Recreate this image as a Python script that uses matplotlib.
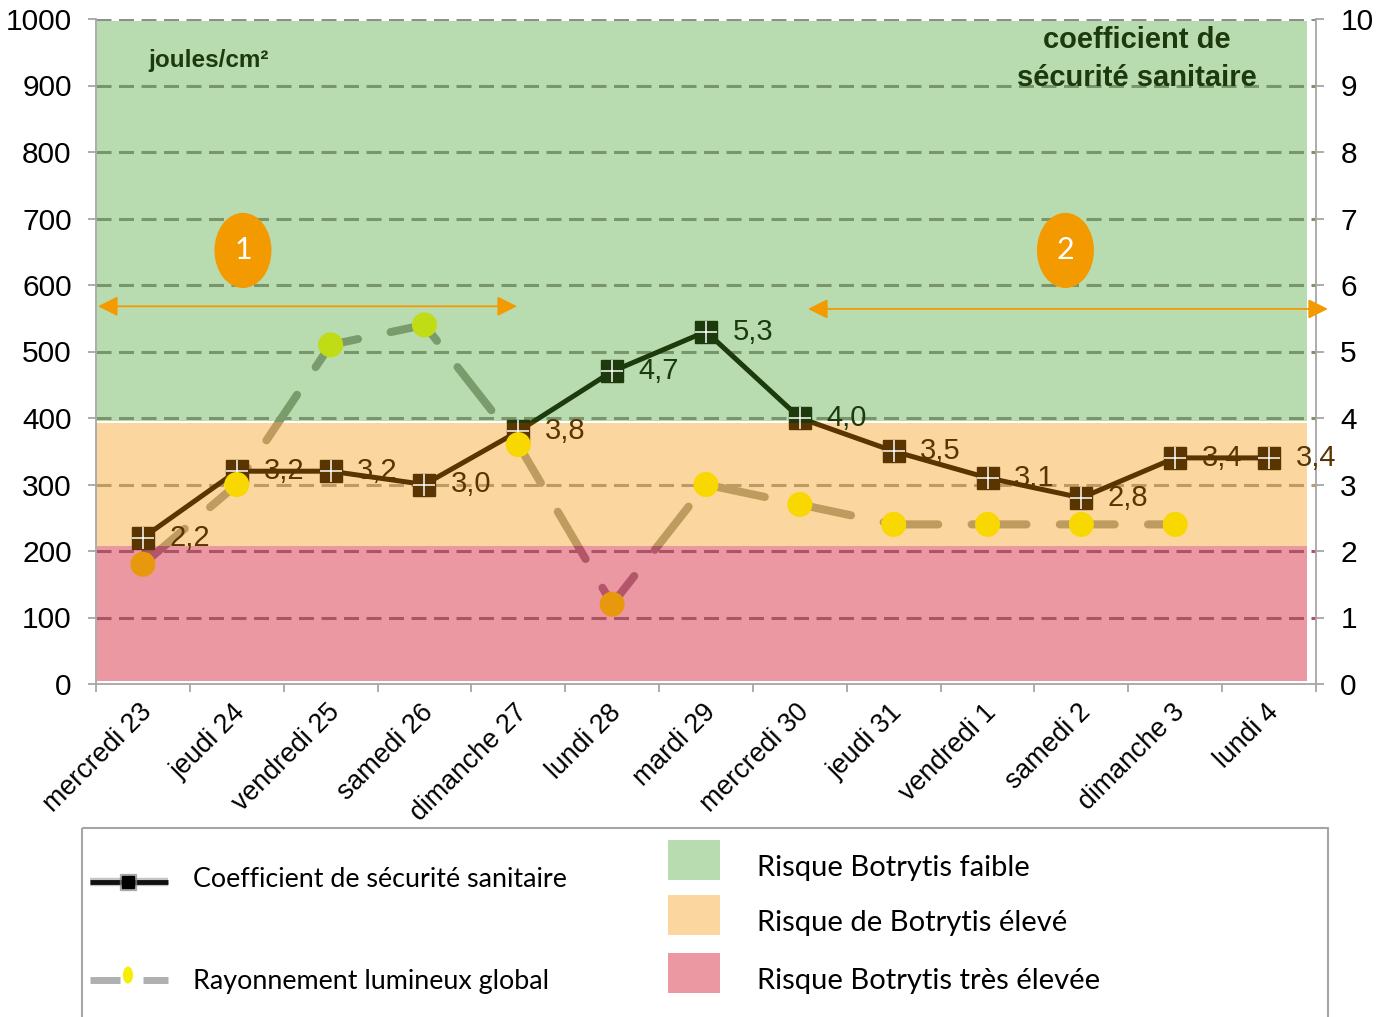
import matplotlib
matplotlib.use('Agg')
import matplotlib.pyplot as plt
from matplotlib.patches import Rectangle, Ellipse
from matplotlib.transforms import ScaledTranslation
import numpy as np

# ---------------- data ----------------
days = ['mercredi 23', 'jeudi 24', 'vendredi 25', 'samedi 26', 'dimanche 27',
        'lundi 28', 'mardi 29', 'mercredi 30', 'jeudi 31', 'vendredi 1',
        'samedi 2', 'dimanche 3', 'lundi 4']
coef = [2.2, 3.2, 3.2, 3.0, 3.8, 4.7, 5.3, 4.0, 3.5, 3.1, 2.8, 3.4, 3.4]
rayon = [180, 300, 510, 540, 360, 120, 300, 270, 240, 240, 240, 240]
zone_bounds = [(4, 207), (207, 392), (395, 997)]
zone_colors = ['#eb98a3', '#fbd69e', '#b9dbb0']
zone_labels = ['Risque Botrytis très élevée', 'Risque de Botrytis élevé',
               'Risque Botrytis faible']
series_labels = ['Coefficient de sécurité sanitaire', 'Rayonnement lumineux global']
period_labels = ['1', '2']

# ---------------- style ----------------
plt.rcParams['lines.scale_dashes'] = False
plt.rcParams['font.family'] = ['Liberation Sans', 'DejaVu Sans']

W, H = 1389, 1017
fig = plt.figure(figsize=(W / 100, H / 100), dpi=100)
ax = fig.add_axes([96 / W, 333 / H, 1220 / W, 665 / H])
ax2 = ax.twinx()

x = np.arange(len(days))
xr = np.arange(len(rayon))
ax.set_xlim(-0.5, len(days) - 0.5)
ax.set_ylim(0, 1000)

px = (len(days)) / 1220.0  # one pixel in x data units

# background zones
for (lo, hi), c in zip(zone_bounds, zone_colors):
    ax.add_patch(Rectangle((-0.5 + px, lo), 1210 * px, hi - lo,
                           facecolor=c, edgecolor='none', zorder=0))

# dashed grid lines, tinted by zone
for v in range(100, 1001, 100):
    if v == 1000:
        gc = '#8e8e8e'
    elif v >= 395:
        gc = '#789669'
    elif v >= 207:
        gc = '#be9b64'
    else:
        gc = '#aa5564'
    ax.axhline(v, color=gc, lw=2.2, dashes=(10.8, 5.4), zorder=1)

split_lo = 207
split_hi = 393.5
def clip_rect(lo, hi):
    return Rectangle((-2, lo), 20, hi - lo, transform=ax.transData)

# radiation line (dashed, tinted per zone)
rad_cols = ['#b4566a', '#be9b5f', '#7a9b6c']
rad_clips = [(-200, split_lo), (split_lo, split_hi), (split_hi, 2000)]
for col, (lo, hi) in zip(rad_cols, rad_clips):
    ln, = ax.plot(xr, rayon, color=col, lw=5.8, dashes=(39.5, 24),
                  dash_capstyle='round', zorder=2)
    ln.set_clip_path(clip_rect(lo, hi))

# coefficient line
brown = '#5a3500'
dgreen = '#1c3a0c'
for col, (lo, hi) in [(brown, (-200, split_hi)), (dgreen, (split_hi, 2000))]:
    ln, = ax2.plot(x, coef, color=col, lw=3.6, marker='s', ms=16.5,
                   mfc=col, mec=col, zorder=3)
    ln.set_clip_path(clip_rect(lo, hi))
ax2.plot(x, coef, ls='none', marker='+', ms=16.5, mew=1.1, color='white', zorder=4)

# radiation markers (on top)
def mcol(v):
    if v < split_lo:
        return '#e8980c'
    if v < split_hi:
        return '#f8d800'
    return '#c0dc14'
ax2.scatter(xr, rayon, c=[mcol(v) for v in rayon], s=18 ** 2,
            edgecolors='none', transform=ax.transData, zorder=5)

# data labels
for xi, v in zip(x, coef):
    ax2.text(xi + 0.5, v, f'{v:.1f}'.replace('.', ','), ha='center', va='center',
             fontsize=21, color=dgreen if v >= 4 else brown, zorder=6)

# period markers
for lab, (cx, cy) in zip(period_labels, [(1.066, 652), (9.83, 652)]):
    ax2.add_patch(Ellipse((cx, cy), 57 * px, 113, facecolor='#f39a00',
                          edgecolor='none', transform=ax.transData, zorder=6))
    ax2.text(cx, cy, lab, ha='center', va='center', color='white', fontsize=22,
             family=['Lato', 'DejaVu Sans'], transform=ax.transData, zorder=7)

for (x0, x1, yy) in [(-0.479, 3.986, 568), (7.087, 12.627, 564)]:
    ax2.annotate('', xy=(x1, yy), xytext=(x0, yy), xycoords=ax.transData,
                 textcoords=ax.transData, annotation_clip=False,
                 arrowprops=dict(arrowstyle='<|-|>,head_length=0.6,head_width=0.3',
                                 mutation_scale=20, color='#f39a00', lw=1.3,
                                 shrinkA=0, shrinkB=0, clip_on=False), zorder=6)

# axis texts
ax.text((148 - 96) / 1220, (684 - 61) / 665, 'joules/cm²', transform=ax.transAxes,
        ha='left', va='center', fontsize=17.5, fontweight='bold', color=dgreen, zorder=6)
ax.text((1137 - 96) / 1220, (684 - 59) / 665, 'coefficient de\nsécurité sanitaire',
        transform=ax.transAxes, ha='center', va='center', fontsize=21,
        fontweight='bold', color=dgreen, linespacing=1.45, zorder=6)

# axes styling
spc = '#a6a6a6'
for a in (ax, ax2):
    a.spines['top'].set_visible(False)
    for s in ('left', 'right', 'bottom'):
        a.spines[s].set_color(spc)
        a.spines[s].set_linewidth(1.3)
ax.spines['right'].set_visible(False)
ax2.spines['left'].set_visible(False)
ax2.spines['bottom'].set_visible(False)

ax.set_yticks(range(0, 1001, 100))
ax.tick_params(axis='y', labelsize=21.5, length=6, width=1.3, color=spc, pad=11.5)
ax2.set_ylim(0, 10)
ax2.set_yticks(range(0, 11))
ax2.tick_params(axis='y', labelsize=21.5, length=6, width=1.3, color=spc, pad=11.5)

ax.set_xticks(x)
ax.set_xticklabels(days, rotation=45, ha='right', rotation_mode='anchor')
ax.set_xticks(np.arange(-0.5, len(days)), minor=True)
ax.tick_params(axis='x', which='major', length=0, labelsize=19.3, pad=1)
ax.tick_params(axis='x', which='minor', length=6, width=1.3, color=spc)
ax.set_facecolor('white')
shift = ScaledTranslation(-4 / 100, -14 / 100, fig.dpi_scale_trans)
for lbl in ax.get_xticklabels():
    lbl.set_transform(lbl.get_transform() + shift)

# ---------------- legend ----------------
lax = fig.add_axes([0, 0, 1, 190 / H])
lax.set_xlim(0, W)
lax.set_ylim(H, H - 190)
lax.axis('off')
lax.add_patch(Rectangle((82, 828), 1246, 300, fill=False, edgecolor=spc, lw=1.5,
                        clip_on=False))
lfont = ['Lato', 'DejaVu Sans']
# coefficient sample
lax.plot([90, 168], [882, 882], color='#8a8a8a', lw=6, alpha=0.5, solid_capstyle='butt')
lax.plot([90, 168], [882, 882], color='#111111', lw=3.5, solid_capstyle='butt')
lax.plot([128], [882], marker='s', ms=12, color='#888888', alpha=0.6)
lax.plot([128], [882], marker='s', ms=8, color='black')
lax.text(193, 879, series_labels[0], ha='left', va='center', fontsize=19.4, family=lfont)
# radiation sample
lax.plot([90, 120], [980, 980], color='#b0b0b0', lw=5, solid_capstyle='butt')
lax.plot([143, 168], [980, 980], color='#b0b0b0', lw=5, solid_capstyle='butt')
lax.add_patch(Ellipse((128, 975), 10, 17, facecolor='#f5f000', edgecolor='none'))
lax.text(193, 981, series_labels[1], ha='left', va='center', fontsize=19.4, family=lfont)
# zone samples
for yy, c, lab in zip([953, 895, 840], zone_colors, zone_labels):
    lax.add_patch(Rectangle((668, yy), 52, 40, facecolor=c, edgecolor='none'))
    lax.text(757, yy + 28, lab, ha='left', va='center', fontsize=21, family=lfont)

fig.savefig('out.png', dpi=100)
